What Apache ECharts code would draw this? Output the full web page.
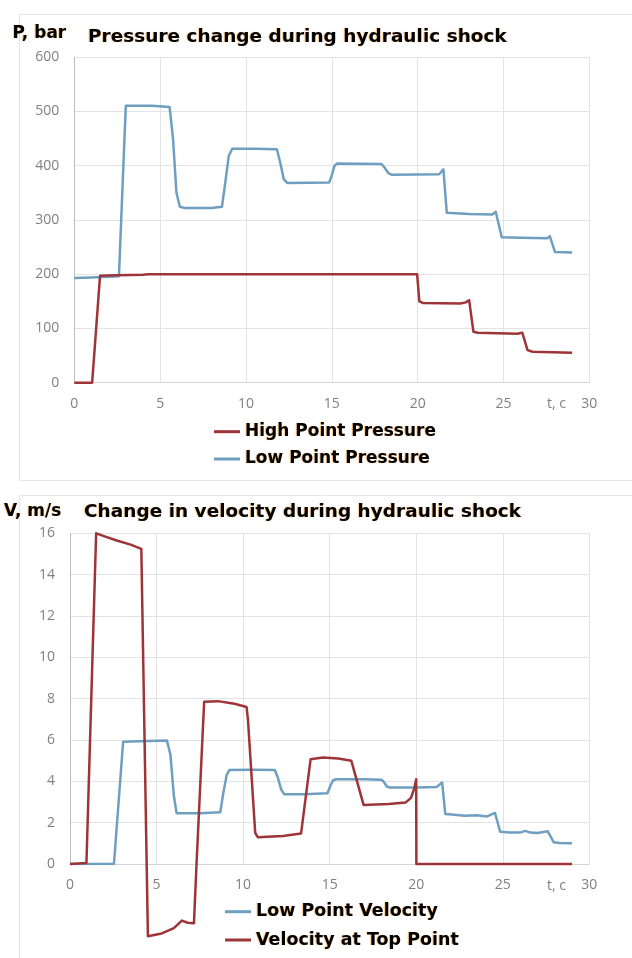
<!DOCTYPE html>
<html>
<head>
<meta charset="utf-8">
<script src="https://cdn.jsdelivr.net/npm/echarts@6/dist/echarts.min.js"></script>
<style>
html,body{margin:0;padding:0;background:#fff;}
#c{width:632px;height:958px;}
</style>
</head>
<body>
<div id="c"></div>
<script>
// ---- Data ----
// Top chart: pressure (bar) vs time t (s)
const tHighP = [0, 1.04, 1.5, 2.5, 4.0, 4.3, 10, 15, 19.97, 20.1, 20.3, 22.5, 22.8, 23.0, 23.25, 23.5, 25.8, 26.1, 26.2, 26.4, 26.7, 29.0];
const pHigh  = [0, 0, 197, 198, 199, 200, 200, 200, 200, 150, 147, 146, 148, 152, 94, 92, 90, 92, 93, 60, 57, 55];

const tLowP = [0, 1, 2.6, 3.0, 4.5, 5.55, 5.75, 5.95, 6.15, 6.4, 8.0, 8.6, 8.8, 9.0, 9.2, 10.5, 11.8, 12.0, 12.2, 12.4, 14.85, 15.0, 15.15, 15.3, 17.9, 18.1, 18.3, 18.5, 21.25, 21.5, 21.7, 23.0, 24.35, 24.55, 24.9, 26.0, 27.55, 27.7, 28.0, 29.0];
const pLow  = [193, 194, 196, 510, 510, 508, 450, 350, 324, 322, 322, 324, 370, 418, 431, 431, 430, 405, 375, 368, 369, 382, 399, 404, 403, 395, 386, 383, 384, 393, 313, 311, 310, 315, 268, 267, 266, 270, 241, 240];

// Bottom chart: velocity (m/s) vs time t (s)
const tLowV = [0, 2.54, 3.07, 4.5, 5.6, 5.8, 6.0, 6.16, 7.5, 8.68, 8.85, 9.05, 9.21, 10.5, 11.83, 12.0, 12.2, 12.37, 13.5, 14.87, 15.05, 15.2, 15.38, 17.0, 18.0, 18.15, 18.3, 18.48, 20, 21.17, 21.5, 21.68, 22.2, 22.8, 23.5, 24.1, 24.55, 24.85, 25.4, 26.0, 26.3, 26.6, 27.0, 27.6, 27.95, 28.3, 29.0];
const vLow  = [0, 0, 5.92, 5.95, 5.97, 5.3, 3.3, 2.45, 2.45, 2.5, 3.4, 4.3, 4.55, 4.56, 4.55, 4.2, 3.6, 3.38, 3.38, 3.42, 3.8, 4.05, 4.1, 4.1, 4.08, 3.95, 3.75, 3.7, 3.7, 3.72, 3.94, 2.42, 2.38, 2.33, 2.36, 2.3, 2.47, 1.56, 1.52, 1.52, 1.6, 1.52, 1.5, 1.58, 1.05, 1.02, 1.0];

const tTopV = [0, 0.95, 1.51, 2.0, 2.7, 3.5, 4.12, 4.5, 5.3, 6.0, 6.46, 6.8, 7.16, 7.31, 7.75, 8.55, 9.5, 10.2, 10.28, 10.7, 10.85, 12.3, 13.35, 13.9, 14.6, 15.5, 16.25, 16.96, 18.4, 19.4, 19.7, 19.9, 20.0, 20.01, 29.0];
const vTop  = [0, 0.05, 16.0, 15.85, 15.65, 15.45, 15.25, -3.5, -3.36, -3.1, -2.74, -2.84, -2.87, 0, 7.85, 7.88, 7.75, 7.6, 7.0, 1.5, 1.3, 1.35, 1.48, 5.07, 5.15, 5.1, 5.0, 2.86, 2.9, 2.98, 3.2, 3.7, 4.1, 0, 0];

const timeTicks = [0, 5, 10, 15, 20, 25, 30];
const pressureTicks = [0, 100, 200, 300, 400, 500, 600];
const velocityTicks = [0, 2, 4, 6, 8, 10, 12, 14, 16];

const names = {
  high: 'High Point Pressure', lowP: 'Low Point Pressure',
  lowV: 'Low Point Velocity', topV: 'Velocity at Top Point'
};

// ---- Build ----
const zip = (ts, vs) => ts.map((t, i) => [t, vs[i]]);
const RED = '#9e3438', BLUE = '#6e9fc0';
const GRID = '#e3e3e3', AXIS = '#bdbdbd', LABEL = '#808080';
const boldFont = 'DejaVu Sans';
const shadow = { textShadowColor: 'rgba(255,150,20,0.55)', textShadowBlur: 1, textShadowOffsetX: -1, textShadowOffsetY: 0 };

function xAxisCfg(gi) {
  return {
    type: 'value', gridIndex: gi,
    min: timeTicks[0], max: timeTicks[timeTicks.length - 1], interval: timeTicks[1] - timeTicks[0],
    axisLine: { show: true, lineStyle: { color: '#d6d6d6', width: 1 } },
    axisTick: { show: false },
    axisLabel: { color: LABEL, fontFamily: 'Open Sans', fontSize: 14, margin: 14 },
    splitLine: { show: true, lineStyle: { color: GRID, width: 1 } }
  };
}
function yAxisCfg(gi, ticks) {
  return {
    type: 'value', gridIndex: gi,
    min: ticks[0], max: ticks[ticks.length - 1], interval: ticks[1] - ticks[0],
    axisLine: { show: true, lineStyle: { color: AXIS, width: 1 } },
    axisTick: { show: false },
    axisLabel: { color: LABEL, fontFamily: 'Open Sans', fontSize: 14, margin: 15 },
    splitLine: { show: true, lineStyle: { color: GRID, width: 1 } }
  };
}
function legendCfg(data, left, top, gap, size) {
  return {
    orient: 'vertical', left: left, top: top, padding: 0,
    itemGap: gap, itemWidth: 26, itemHeight: 3, icon: 'rect',
    data: data,
    textStyle: Object.assign({ color: '#000', fontFamily: boldFont, fontWeight: 'bold', fontSize: size, lineHeight: 20 }, shadow),
    selectedMode: false
  };
}
function txt(x, y, text, font, fill, align, extra) {
  return {
    type: 'text', x: x, y: y, silent: true,
    style: Object.assign({ text: text, font: font, fill: fill, align: align || 'left', verticalAlign: 'middle' }, extra || {})
  };
}

const chart = echarts.init(document.getElementById('c'), null, { renderer: 'canvas' });
chart.setOption({
  backgroundColor: '#fff',
  animation: false,
  grid: [
    { left: 74.3, right: 42.7, top: 57, bottom: 575.3 },
    { left: 70, right: 42.7, top: 533.3, bottom: 94 }
  ],
  xAxis: [xAxisCfg(0), xAxisCfg(1)],
  yAxis: [yAxisCfg(0, pressureTicks), yAxisCfg(1, velocityTicks)],
  legend: [
    legendCfg([names.high, names.lowP], 214, 421.7, 7.3, 17),
    legendCfg([names.lowV, names.topV], 225, 901.7, 8.3, 17.5)
  ],
  graphic: [
    { type: 'rect', silent: true, z: -10, shape: { x: 19.5, y: 14.5, width: 640, height: 466 }, style: { fill: 'none', stroke: '#e6e6e6', lineWidth: 1 } },
    { type: 'rect', silent: true, z: -10, shape: { x: 19.5, y: 495.5, width: 640, height: 480 }, style: { fill: 'none', stroke: '#e6e6e6', lineWidth: 1 } },
    txt(12.5, 33.5, 'P, bar', 'bold 17px "DejaVu Sans"', '#000', 'left', shadow),
    txt(88, 37.5, 'Pressure change during hydraulic shock', 'bold 18.5px "DejaVu Sans"', '#000', 'left', shadow),
    txt(556.5, 404.5, 't, c', '14px "Open Sans"', LABEL, 'center'),
    txt(4, 511.7, 'V, m/s', 'bold 17px "DejaVu Sans"', '#000', 'left', shadow),
    txt(84, 511.7, 'Change in velocity during hydraulic shock', 'bold 18.5px "DejaVu Sans"', '#000', 'left', shadow),
    txt(556.5, 885.7, 't, c', '14px "Open Sans"', LABEL, 'center')
  ],
  series: [
    { name: names.high, type: 'line', xAxisIndex: 0, yAxisIndex: 0, data: zip(tHighP, pHigh),
      showSymbol: false, symbol: 'none', color: RED, lineStyle: { color: RED, width: 2.5, join: 'round' }, z: 3 },
    { name: names.lowP, type: 'line', xAxisIndex: 0, yAxisIndex: 0, data: zip(tLowP, pLow),
      showSymbol: false, symbol: 'none', color: BLUE, lineStyle: { color: BLUE, width: 2.5, join: 'round' }, z: 2 },
    { name: names.lowV, type: 'line', xAxisIndex: 1, yAxisIndex: 1, data: zip(tLowV, vLow),
      showSymbol: false, symbol: 'none', color: BLUE, lineStyle: { color: BLUE, width: 2.5, join: 'round' }, z: 2 },
    { name: names.topV, type: 'line', xAxisIndex: 1, yAxisIndex: 1, data: zip(tTopV, vTop), clip: false,
      showSymbol: false, symbol: 'none', color: RED, lineStyle: { color: RED, width: 2.5, join: 'round' }, z: 3 }
  ]
});
</script>
</body>
</html>
